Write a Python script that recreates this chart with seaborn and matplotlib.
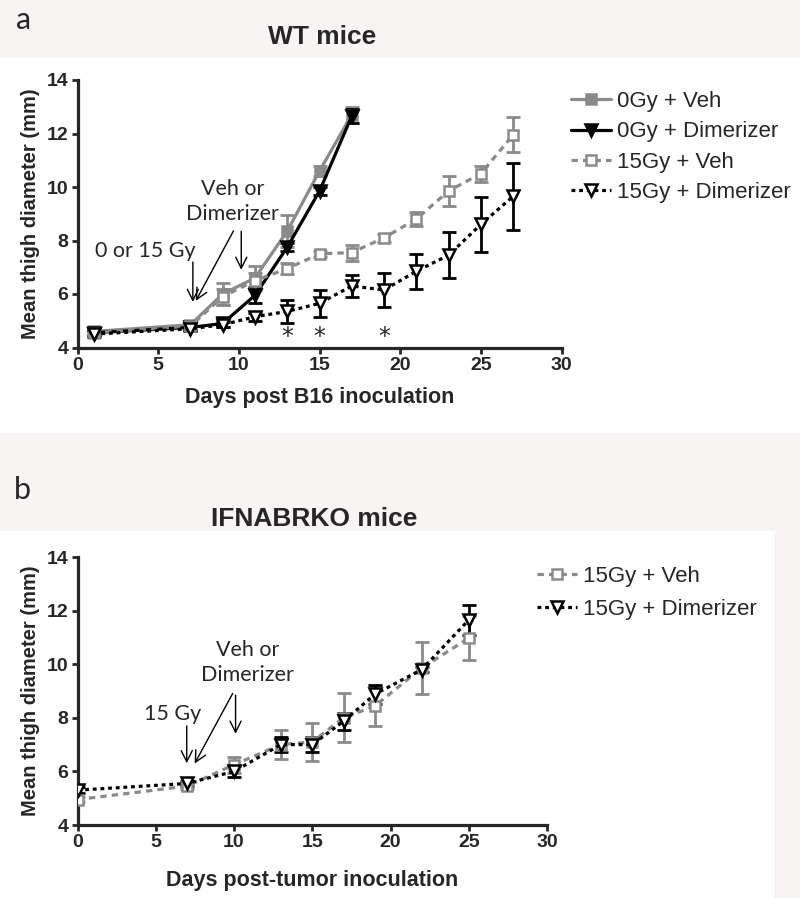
import matplotlib
matplotlib.use("Agg")
import matplotlib.pyplot as plt
import seaborn as sns
import pandas as pd
from matplotlib.patches import Rectangle

# panel a: WT mice
days_0gy = [1, 7, 9, 11, 13, 15, 17]
veh_0gy = [4.6, 4.85, 6.0, 6.6, 8.35, 10.6, 12.7]
veh_0gy_err = [0.1, 0.1, 0.4, 0.45, 0.6, 0.2, 0.3]
dim_0gy = [4.55, 4.75, 4.9, 5.95, 7.75, 9.85, 12.65]
dim_0gy_err = [0.1, 0.1, 0.12, 0.3, 0.15, 0.15, 0.25]

days_15gy = [1, 7, 9, 11, 13, 15, 17, 19, 21, 23, 25, 27]
veh_15gy = [4.55, 4.8, 5.9, 6.5, 6.95, 7.5, 7.55, 8.1, 8.8, 9.85, 10.5, 11.95]
veh_15gy_err = [0.1, 0.1, 0.3, 0.3, 0.2, 0.1, 0.3, 0.15, 0.25, 0.55, 0.3, 0.65]
dim_15gy = [4.5, 4.7, 4.85, 5.15, 5.35, 5.65, 6.3, 6.15, 6.85, 7.45, 8.6, 9.65]
dim_15gy_err = [0.1, 0.1, 0.1, 0.15, 0.42, 0.5, 0.42, 0.62, 0.65, 0.85, 1.03, 1.25]

star_days = [13, 15, 19]

# panel b: IFNABRKO mice
days_b = [0, 7, 10, 13, 15, 17, 19, 22, 25]
veh_b = [4.95, 5.45, 6.25, 7.0, 7.1, 8.0, 8.44, 9.86, 10.97]
veh_b_err = [0.1, 0.1, 0.3, 0.55, 0.7, 0.92, 0.76, 0.98, 0.82]
dim_b = [5.3, 5.55, 6.0, 7.0, 7.0, 7.87, 8.88, 9.8, 11.65]
dim_b_err = [0.1, 0.1, 0.2, 0.28, 0.27, 0.32, 0.35, 0.1, 0.55]

sns.set_style("ticks")
plt.rcParams['font.family'] = ['Liberation Sans', 'DejaVu Sans']

GRAY = '#8a8a8a'
BLACK = '#000000'
BG = '#f7f4f3'

styles = {
    '0Gy + Veh': dict(color=GRAY, ls='-', marker='s', mfc=GRAY, ms=7.5),
    '0Gy + Dimerizer': dict(color=BLACK, ls='-', marker='v', mfc=BLACK, ms=8.5),
    '15Gy + Veh': dict(color=GRAY, ls=(0, (2, 1.6)), marker='s', mfc='white', ms=7.5),
    '15Gy + Dimerizer': dict(color=BLACK, ls=(0, (1.2, 1.2)), marker='v', mfc='white', ms=8.5),
}

fig = plt.figure(figsize=(8, 8.98), dpi=100)
fig.patch.set_facecolor(BG)
fig.patches.append(Rectangle((0, 1 - 432 / 898), 1, (432 - 58) / 898,
                             transform=fig.transFigure, color='white', zorder=-10))
fig.patches.append(Rectangle((0, 0), 773 / 800, (898 - 531) / 898,
                             transform=fig.transFigure, color='white', zorder=-10))

ax_a = fig.add_axes([77.5 / 800, 1 - 347.5 / 898, 484 / 800, 267.5 / 898])
ax_b = fig.add_axes([77.5 / 800, 1 - 825 / 898, 469.5 / 800, 268 / 898])


def draw_series(ax, name, days, mean, err):
    st = styles[name]
    df = pd.DataFrame({'day': days, 'mm': mean})
    ax.errorbar(days, mean, yerr=err, fmt='none', ecolor=st['color'],
                elinewidth=2, capsize=5, capthick=2, zorder=3)
    sns.lineplot(data=df, x='day', y='mm', ax=ax, color=st['color'],
                 linestyle=st['ls'], linewidth=2.3, marker=st['marker'],
                 markersize=st['ms'], markerfacecolor=st['mfc'],
                 markeredgecolor=st['color'], markeredgewidth=1.8,
                 label=name, zorder=4)


def style_axes(ax, xlabel, labelpad):
    ax.set_xlim(0, 30)
    ax.set_ylim(4, 14)
    ax.set_xticks(range(0, 31, 5))
    ax.set_yticks(range(4, 15, 2))
    ax.set_facecolor('none')
    sns.despine(ax=ax)
    for sp in ['left', 'bottom']:
        ax.spines[sp].set_linewidth(2.3)
    ax.tick_params(width=2, length=4.5, labelsize=14, pad=2)
    for lab in ax.get_xticklabels() + ax.get_yticklabels():
        lab.set_fontweight('bold')
    ax.set_xlabel(xlabel, fontsize=15.5, fontweight='bold', labelpad=labelpad)
    ax.set_ylabel('Mean thigh diameter (mm)', fontsize=14.5, fontweight='bold', labelpad=5)


# panel a
draw_series(ax_a, '0Gy + Veh', days_0gy, veh_0gy, veh_0gy_err)
draw_series(ax_a, '0Gy + Dimerizer', days_0gy, dim_0gy, dim_0gy_err)
draw_series(ax_a, '15Gy + Veh', days_15gy, veh_15gy, veh_15gy_err)
draw_series(ax_a, '15Gy + Dimerizer', days_15gy, dim_15gy, dim_15gy_err)
style_axes(ax_a, 'Days post B16 inoculation', 10)
for d in star_days:
    ax_a.text(d, 4.4, '*', ha='center', va='center', fontsize=17, family='DejaVu Sans')

note = dict(fontsize=15.5, family=['Lato', 'DejaVu Sans'], ha='center', va='center')
arrow = dict(arrowstyle='->', lw=1, color='black', mutation_scale=20)
ax_a.text(4.2, 7.6, '0 or 15 Gy', **note)
ax_a.text(9.6, 9.45, 'Veh or\nDimerizer', linespacing=1.3, **note)
ax_a.annotate('', xy=(7.15, 5.6), xytext=(7.15, 7.3), arrowprops=arrow)
ax_a.annotate('', xy=(7.25, 5.65), xytext=(9.75, 8.45), arrowprops=arrow)
ax_a.annotate('', xy=(10.15, 6.8), xytext=(10.15, 8.45), arrowprops=arrow)

leg_kw = dict(frameon=False, fontsize=16, handlelength=1.8, handletextpad=0.25,
              borderpad=0, borderaxespad=0)
ax_a.legend(loc='upper left', bbox_to_anchor=(571 / 800, 1 - 91 / 898),
            bbox_transform=fig.transFigure, labelspacing=0.42, **leg_kw)

# panel b
draw_series(ax_b, '15Gy + Veh', days_b, veh_b, veh_b_err)
draw_series(ax_b, '15Gy + Dimerizer', days_b, dim_b, dim_b_err)
style_axes(ax_b, 'Days post-tumor inoculation', 14)
ax_b.text(6.1, 8.15, '15 Gy', **note)
ax_b.text(10.85, 10.05, 'Veh or\nDimerizer', linespacing=1.3, **note)
ax_b.annotate('', xy=(6.98, 6.2), xytext=(6.98, 7.8), arrowprops=arrow)
ax_b.annotate('', xy=(7.4, 6.2), xytext=(10.0, 9.0), arrowprops=arrow)
ax_b.annotate('', xy=(10.1, 7.3), xytext=(10.1, 8.95), arrowprops=arrow)
ax_b.legend(loc='upper left', bbox_to_anchor=(537 / 800, 1 - 566 / 898),
            bbox_transform=fig.transFigure, labelspacing=0.55, **leg_kw)

# panel letters and titles
fig.text(24 / 800, 1 - 20 / 898, 'a', fontsize=22, family=['Lato', 'DejaVu Sans'],
         ha='center', va='center')
fig.text(22 / 800, 1 - 490 / 898, 'b', fontsize=22, family=['Lato', 'DejaVu Sans'],
         ha='center', va='center')
fig.text(322 / 800, 1 - 37 / 898, 'WT mice', fontsize=19, fontweight='bold',
         ha='center', va='center')
fig.text(314 / 800, 1 - 519 / 898, 'IFNABRKO mice', fontsize=19, fontweight='bold',
         ha='center', va='center')

fig.savefig('out.png', dpi=100, facecolor=fig.get_facecolor())
